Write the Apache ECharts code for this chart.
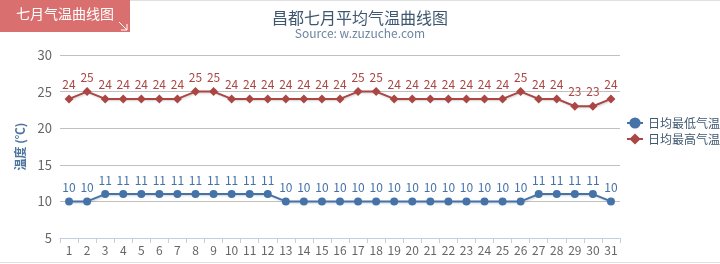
<!DOCTYPE html>
<html>
<head>
<meta charset="utf-8">
<script src="https://cdn.jsdelivr.net/npm/echarts@6/dist/echarts.min.js"></script>
<style>
  html, body { margin: 0; padding: 0; background: #fff; }
  #chart { width: 720px; height: 264px; }
</style>
</head>
<body>
<div id="chart"></div>
<script>
// 昌都七月每日平均最高/最低气温
const days = ['1','2','3','4','5','6','7','8','9','10','11','12','13','14','15','16',
              '17','18','19','20','21','22','23','24','25','26','27','28','29','30','31'];
const lowTemps  = [10,10,11,11,11,11,11,11,11,11,11,11,10,10,10,10,10,10,10,10,10,10,10,10,10,10,11,11,11,11,10];
const highTemps = [24,25,24,24,24,24,24,25,25,24,24,24,24,24,24,24,25,25,24,24,24,24,24,24,24,25,24,24,23,23,24];
const yTicks = [5, 10, 15, 20, 25, 30];

const FONT = '"Noto Sans CJK SC", "DejaVu Sans", sans-serif';
const chart = echarts.init(document.getElementById('chart'), null, { renderer: 'canvas' });

const lineShadow = { shadowColor: 'rgba(0,0,0,0.18)', shadowBlur: 2, shadowOffsetX: 1, shadowOffsetY: 1 };

chart.setOption({
  animation: false,
  textStyle: { fontFamily: FONT },
  title: {
    text: '昌都七月平均气温曲线图',
    subtext: 'Source: w.zuzuche.com',
    left: 'center',
    top: 5,
    itemGap: 1,
    textStyle: { fontSize: 16, fontWeight: 'normal', color: '#3E576F', fontFamily: FONT },
    subtextStyle: { fontSize: 12, color: '#6D869F', fontFamily: FONT }
  },
  legend: {
    orient: 'vertical',
    left: 626,
    top: 117,
    padding: 0,
    itemGap: 4,
    itemWidth: 16,
    itemHeight: 14,
    textStyle: { fontSize: 12, color: '#3E576F', fontFamily: FONT },
    data: ['日均最低气温', '日均最高气温']
  },
  grid: { left: 60, right: 100, top: 55, bottom: 26, containLabel: false },
  xAxis: {
    type: 'category',
    data: days,
    boundaryGap: true,
    axisLine: { lineStyle: { color: '#C0D0E0', width: 1 } },
    axisTick: { show: true, alignWithLabel: false, length: 5, lineStyle: { color: '#C0D0E0' } },
    axisLabel: { color: '#666', fontSize: 12, margin: 6, interval: 0, fontFamily: FONT }
  },
  yAxis: {
    type: 'value',
    min: yTicks[0],
    max: yTicks[yTicks.length - 1],
    interval: 5,
    name: '温度 (℃)',
    nameLocation: 'middle',
    nameRotate: 90,
    nameGap: 30,
    nameTextStyle: { color: '#4D759E', fontSize: 12, fontWeight: 'bold', fontFamily: FONT },
    axisLine: { show: false },
    axisTick: { show: false },
    axisLabel: { color: '#666', fontSize: 13, margin: 8, fontFamily: FONT },
    splitLine: { lineStyle: { color: '#C0C0C0', width: 1 } }
  },
  series: [
    {
      name: '日均最低气温',
      type: 'line',
      data: lowTemps,
      symbol: 'circle',
      symbolSize: 8,
      itemStyle: { color: '#4572A7' },
      lineStyle: Object.assign({ color: '#4572A7', width: 2 }, lineShadow),
      label: { show: true, position: 'top', distance: 4, color: '#4572A7', fontSize: 12, fontFamily: FONT }
    },
    {
      name: '日均最高气温',
      type: 'line',
      data: highTemps,
      symbol: 'diamond',
      symbolSize: 9,
      itemStyle: { color: '#AA4643' },
      lineStyle: Object.assign({ color: '#AA4643', width: 2 }, lineShadow),
      label: { show: true, position: 'top', distance: 4, color: '#AA4643', fontSize: 12, fontFamily: FONT }
    }
  ],
  graphic: [
    { type: 'line', shape: { x1: 0, y1: 0.5, x2: 720, y2: 0.5 }, style: { stroke: '#E0E0E0', lineWidth: 1 } },
    { type: 'line', shape: { x1: 0, y1: 262.5, x2: 720, y2: 262.5 }, style: { stroke: '#E0E0E0', lineWidth: 1 } },
    { type: 'rect', shape: { x: 0, y: 0, width: 130, height: 32 }, style: { fill: '#D9706F' } },
    { type: 'text', x: 16, y: 7, style: { text: '七月气温曲线图', fill: '#fff', fontSize: 14, fontFamily: FONT } },
    { type: 'polyline', shape: { points: [[119, 22], [127, 30]] }, style: { stroke: '#fff', lineWidth: 1 } },
    { type: 'polyline', shape: { points: [[121, 30], [127, 30], [127, 24]] }, style: { stroke: '#fff', lineWidth: 1, fill: null } }
  ]
});
</script>
</body>
</html>
